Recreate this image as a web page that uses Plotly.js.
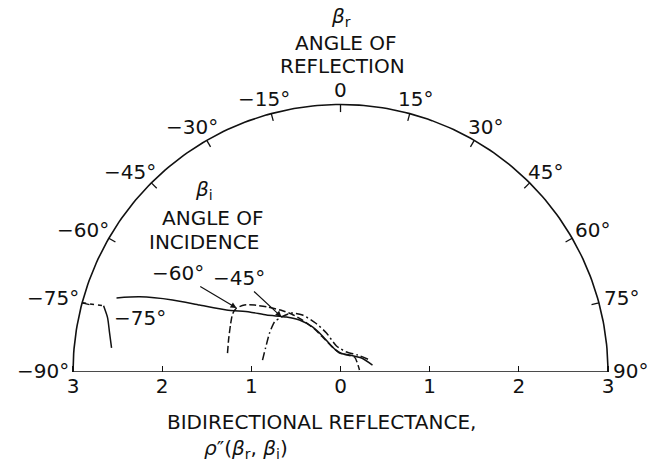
<!DOCTYPE html>
<html>
<head>
<meta charset="utf-8">
<script src="https://cdn.plot.ly/plotly-3.0.1.min.js"></script>
<style>
  html, body { margin: 0; padding: 0; background: #fff; }
  #chart { width: 654px; height: 465px; }
</style>
</head>
<body>
<div id="chart"></div>
<script>
// Bidirectional reflectance rho''(beta_r, beta_i) against angle of reflection beta_r (degrees),
// one curve per angle of incidence beta_i.
const beta75 = [-71.7, -69.5, -66.8, -64.6, -61.5, -56.6, -52.4, -44.5, -38.3, -31.9, -26.6, -17.8, -3.0, 27.9, 56.4, 77.7];
const rho75  = [2.646, 2.406, 2.050, 1.750, 1.455, 1.223, 1.047, 0.865, 0.743, 0.595, 0.452, 0.294, 0.213, 0.216, 0.283, 0.367];

// grazing end of the -75 degree curve
const beta75Tail = [-74.4, -76.9, -80.4, -84.0];
const rho75Tail  = [2.759, 2.682, 2.627, 2.582];
const beta75Lead = [-75.0, -74.4];
const rho75Lead  = [3.0, 2.759];

const beta60 = [-80.5, -74.0, -66.9, -61.8, -58.4, -55.1, -52.1, -48.3, -44.1, -40.2, -36.2, -31.2, -25.9, -14.6, 6.3, 43.1, 84.0];
const rho60  = [1.285, 1.306, 1.342, 1.374, 1.369, 1.313, 1.222, 1.096, 0.967, 0.852, 0.722, 0.564, 0.411, 0.267, 0.203, 0.230, 0.214];

const beta45 = [-81.3, -72.3, -61.2, -52.8, -47.0, -39.7, -33.7, -27.0, -19.8, -8.8, 16.7, 45.0, 67.4];
const rho45  = [0.885, 0.883, 0.908, 0.929, 0.905, 0.860, 0.768, 0.617, 0.465, 0.295, 0.234, 0.270, 0.352];

// reflectance scale along the base (magnitude on both sides of the normal)
const rhoTicks = [-3, -2, -1, 0, 1, 2, 3];
const rhoTickText = ['3', '2', '1', '0', '1', '2', '3'];
// angle marks around the rim
const angleTicks = [-90, -75, -60, -45, -30, -15, 0, 15, 30, 45, 60, 75, 90];
const angleTickText = ['−90°', '−75°', '−60°', '−45°', '−30°', '−15°', '0', '15°', '30°', '45°', '60°', '75°', '90°'];

const RIM = 3;
const PX = 89.17;            // pixels per reflectance unit (same on both axes)
const FONT = 'DejaVu Sans, Liberation Sans, sans-serif';
const rad = d => d * Math.PI / 180;
const toX = (b, r) => b.map((d, i) => r[i] * Math.sin(rad(d)));
const toY = (b, r) => b.map((d, i) => r[i] * Math.cos(rad(d)));

const ink = '#111';
const traces = [];

// semicircular rim and base line
const rimB = [], rimR = [];
for (let d = -90; d <= 90; d += 1) { rimB.push(d); rimR.push(RIM); }
traces.push({ x: toX(rimB, rimR).concat([-RIM]), y: toY(rimB, rimR).concat([0]),
  mode: 'lines', line: { color: ink, width: 1.6 }, cliponaxis: false, hoverinfo: 'skip' });

// inward tick marks on the rim
const tx = [], ty = [];
angleTicks.filter(a => Math.abs(a) < 90).forEach(a => {
  tx.push(RIM * Math.sin(rad(a)), (RIM - 0.085) * Math.sin(rad(a)), null);
  ty.push(RIM * Math.cos(rad(a)), (RIM - 0.085) * Math.cos(rad(a)), null);
});
traces.push({ x: tx, y: ty, mode: 'lines', line: { color: ink, width: 1.3 }, cliponaxis: false, hoverinfo: 'skip' });

function curve(b, r, dash) {
  return { x: toX(b, r), y: toY(b, r), mode: 'lines', cliponaxis: false, hoverinfo: 'skip',
    line: { color: ink, width: 1.5, dash: dash, shape: 'spline', smoothing: 0.6 } };
}
traces.push(curve(beta75, rho75, 'solid'));
traces.push(curve(beta75Tail, rho75Tail, 'solid'));
traces.push(curve(beta75Lead, rho75Lead, '4px,4px'));
traces.push(curve(beta60, rho60, '7px,3px'));
traces.push(curve(beta45, rho45, '8px,3px,2px,3px'));

const annotations = [];
// angle labels sit just outside each rim tick
angleTicks.forEach((a, i) => {
  const s = Math.sin(rad(a)), c = Math.cos(rad(a));
  const dx = s * (a < 0 ? 30 : 23), dy = c * 14 + 1;
  annotations.push({ x: RIM * s + dx / PX, y: RIM * c + dy / PX, xref: 'x', yref: 'y',
    text: angleTickText[i], showarrow: false, xanchor: 'center', yanchor: 'middle',
    font: { family: FONT, size: 20, color: ink } });
});

const txt = (text, x, y, xanchor) => ({ text, x, y, xref: 'paper', yref: 'paper', showarrow: false,
  xanchor: xanchor || 'center', yanchor: 'middle',
  font: { family: FONT, size: 20, color: ink } });

annotations.push(txt('<i>β</i><sub>r</sub>', 341 / 654, 1 - 17 / 465));
annotations.push(txt('ANGLE OF', 346 / 654, 1 - 43 / 465));
annotations.push(txt('REFLECTION', 342 / 654, 1 - 66 / 465));
annotations.push(txt('<i>β</i><sub>i</sub>', 204 / 654, 1 - 190 / 465));
annotations.push(txt('ANGLE OF', 213 / 654, 1 - 218 / 465));
annotations.push(txt('INCIDENCE', 204 / 654, 1 - 241.5 / 465));
annotations.push(txt('BIDIRECTIONAL REFLECTANCE,', 321 / 654, 1 - 422 / 465));
annotations.push(txt('<i>ρ</i>″(<i>β</i><sub>r</sub>, <i>β</i><sub>i</sub>)', 202 / 654, 1 - 449 / 465, 'left'));

// curve labels
annotations.push({ x: toX([beta60[4]], [rho60[4]])[0], y: toY([beta60[4]], [rho60[4]])[0],
  ax: -1.828, ay: 1.11, axref: 'x', ayref: 'y', xref: 'x', yref: 'y', text: '−60°',
  showarrow: true, arrowhead: 2, arrowsize: 1, arrowwidth: 1.2, arrowcolor: ink, standoff: 0,
  font: { family: FONT, size: 20, color: ink } });
annotations.push({ x: toX([beta45[4]], [rho45[4]])[0], y: toY([beta45[4]], [rho45[4]])[0],
  ax: -1.133, ay: 1.054, axref: 'x', ayref: 'y', xref: 'x', yref: 'y', text: '−45°',
  showarrow: true, arrowhead: 2, arrowsize: 1, arrowwidth: 1.2, arrowcolor: ink, standoff: 0,
  font: { family: FONT, size: 20, color: ink } });
annotations.push({ x: -2.254, y: 0.606, xref: 'x', yref: 'y', text: '−75°', showarrow: false,
  font: { family: FONT, size: 20, color: ink } });

const layout = {
  width: 654, height: 465,
  margin: { l: 0, r: 0, t: 0, b: 0 },
  paper_bgcolor: '#fff', plot_bgcolor: '#fff',
  showlegend: false,
  xaxis: { range: [-3.819, 3.516], showgrid: false, zeroline: false, showline: false,
    tickvals: rhoTicks, ticktext: rhoTickText, ticks: 'inside', ticklen: 6, tickwidth: 1.3,
    tickcolor: ink, tickfont: { family: FONT, size: 20, color: ink }, automargin: false, fixedrange: true },
  yaxis: { domain: [0.2, 1], range: [0, 4.172], visible: false, fixedrange: true },
  annotations: annotations
};

Plotly.newPlot('chart', traces, layout, { staticPlot: true, displayModeBar: false });
</script>
</body>
</html>
